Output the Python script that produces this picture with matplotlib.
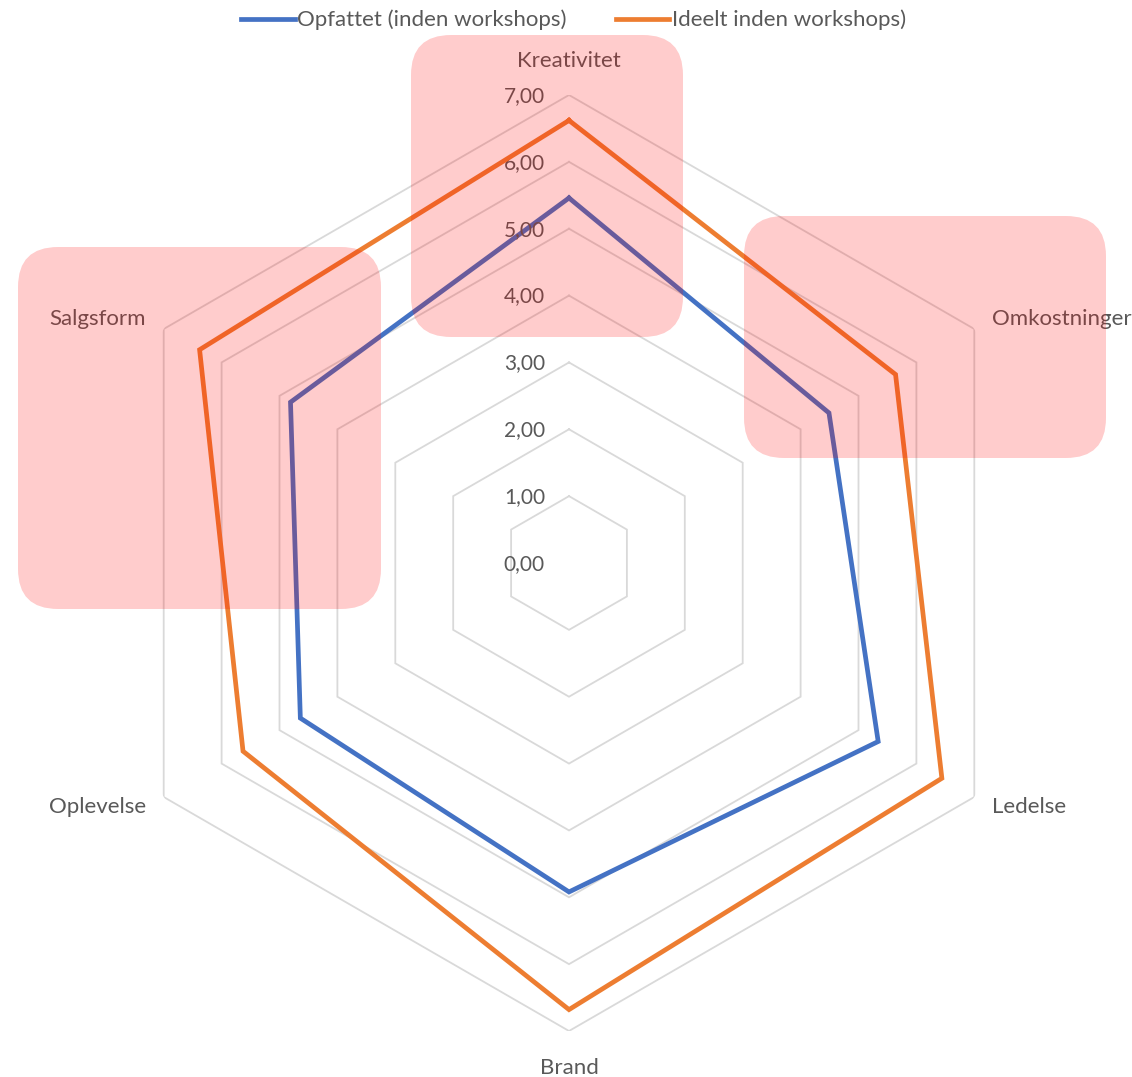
import numpy as np
import matplotlib
matplotlib.use("Agg")
import matplotlib.pyplot as plt
from matplotlib.lines import Line2D
from matplotlib.patches import FancyBboxPatch
from matplotlib.transforms import offset_copy

# ---------------- data ----------------
categories = ["Kreativitet", "Omkostninger", "Ledelse", "Brand", "Oplevelse", "Salgsform"]
opfattet = [5.46, 4.49, 5.34, 4.92, 4.64, 4.81]
ideelt = [6.62, 5.64, 6.44, 6.68, 5.63, 6.38]
series_names = ["Opfattet (inden workshops)", "Ideelt inden workshops)"]
tick_values = [0, 1, 2, 3, 4, 5, 6, 7]
tick_labels = ["0,00", "1,00", "2,00", "3,00", "4,00", "5,00", "6,00", "7,00"]

# ---------------- style ----------------
plt.rcParams["font.family"] = ["Lato", "DejaVu Sans"]
BLUE = "#4472C4"
ORANGE = "#ED7D31"
GRID = "#D9D9D9"
TXT = "#595959"

W, H = 1132, 1077
fig = plt.figure(figsize=(W / 100, H / 100), dpi=100)
cx, cy, R = 569, 563, 468
ax = fig.add_axes([(cx - R) / W, (H - cy - R) / H, 2 * R / W, 2 * R / H], projection="polar")
ax.set_theta_offset(np.pi / 2)
ax.set_theta_direction(-1)
ax.set_ylim(0, tick_values[-1])
ax.grid(False)
ax.set_xticks([])
ax.set_yticks([])
ax.spines["polar"].set_visible(False)
ax.patch.set_alpha(0)

n = len(categories)
angles = np.arange(n) * 2 * np.pi / n
closed = np.append(angles, angles[0])

for v in tick_values[1:]:
    ax.plot(closed, [v] * (n + 1), color=GRID, lw=1.3, zorder=1, solid_joinstyle="miter")

ax.plot(closed, opfattet + opfattet[:1], color=BLUE, lw=3.4, zorder=3, solid_joinstyle="miter")
ax.plot(closed, ideelt + ideelt[:1], color=ORANGE, lw=3.4, zorder=4, solid_joinstyle="miter")

# value tick labels
tick_tr = offset_copy(ax.transData, fig=fig, x=-24, y=-1, units="dots")
for v, lab in zip(tick_values, tick_labels):
    ax.text(0, v, lab, transform=tick_tr, ha="right", va="center", fontsize=15, color=TXT)

# category labels
rmax = tick_values[-1]
for ang, lab in zip(angles, categories):
    s, c = np.sin(ang), np.cos(ang)
    if abs(s) < 1e-6:
        dx, dy, ha = 0, (34 if c > 0 else -37), "center"
    else:
        dx, dy = 18 * np.sign(s), 10 * np.sign(c)
        ha = "left" if s > 0 else "right"
    tr = offset_copy(ax.transData, fig=fig, x=dx, y=dy, units="dots")
    ax.text(ang, rmax, lab, transform=tr, ha=ha, va="center", fontsize=16, color=TXT)

# legend
handles = [Line2D([], [], color=BLUE, lw=3.4), Line2D([], [], color=ORANGE, lw=3.4)]
fig.legend(handles, series_names, loc="center", bbox_to_anchor=(573.5 / W, 1 - 20 / H),
           ncol=2, frameon=False, fontsize=16, handlelength=2.4, handletextpad=0.12,
           columnspacing=2.2, labelcolor=TXT)

# translucent highlight boxes (overlay)
ov = fig.add_axes([0, 0, 1, 1], zorder=10)
ov.set_xlim(0, W)
ov.set_ylim(H, 0)
ov.axis("off")
ov.patch.set_alpha(0)
boxes = [(411, 35, 272, 302), (744, 216, 362, 242), (18, 247, 363, 362)]
for x0, y0, bw, bh in boxes:
    ov.add_patch(FancyBboxPatch((x0, y0), bw, bh, boxstyle="round,pad=0,rounding_size=40",
                                fc=(1, 0, 0, 0.2), ec="none"))

fig.savefig("out.png", dpi=100)
